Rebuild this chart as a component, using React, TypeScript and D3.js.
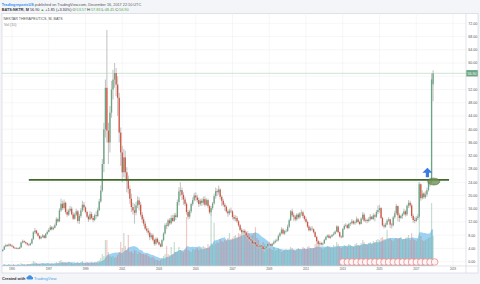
import React from "react";
import * as d3 from "d3";

// ---- DATA (monthly, Jul 1994 .. Dec 2017) ----
const FIRST_MONTH = { year: 1994, month: 6 }; // July 1994
const FIRST_OPEN = 3.2;
const LAST_OPEN = 53.57; // Dec 2017 open (header O:53.57)

const closes = [
  3.6, 4.6, 5.0, 4.8, 5.2, 4.9,
  4.6, 4.2, 4.0, 4.1, 3.9, 4.3, 5.8, 6.2, 5.9, 5.6, 5.2, 5.0,
  5.5, 6.8, 8.9, 9.4, 8.6, 7.8, 7.0, 7.5, 7.9, 7.2, 8.4, 9.0,
  9.6, 10.4, 9.8, 10.2, 11.0, 12.8, 12.2, 15.5, 17.5, 16.2, 17.8, 15.0,
  14.2, 15.4, 16.0, 14.3, 13.0, 14.2, 15.2, 12.3, 13.8, 15.5, 17.2, 16.4,
  15.0, 13.6, 12.8, 14.4, 13.2, 12.6, 14.0, 13.8, 15.6, 18.2, 21.5, 29.5,
  40.0, 52.5, 39.6, 36.0, 45.0, 52.0, 55.0, 57.0, 53.5, 49.5, 39.0, 33.0,
  27.0, 31.5, 27.0, 24.5, 22.0, 19.0, 16.5, 15.5, 14.8, 17.0, 18.5, 17.2,
  14.2, 12.8, 11.5, 10.0, 9.4, 8.8, 7.4, 8.0, 6.6, 5.4, 6.9, 5.9,
  5.2, 4.6, 6.5, 8.5, 11.0, 10.8, 12.5, 11.6, 13.2, 12.3, 14.0, 13.5,
  18.0, 21.2, 21.6, 20.2, 18.8, 17.5, 15.0, 13.6, 15.2, 17.4, 18.6, 20.0,
  19.4, 18.6, 17.4, 18.4, 17.8, 18.9, 17.2, 18.6, 16.8, 14.9, 16.2, 17.6,
  19.8, 21.3, 21.0, 21.8, 19.6, 18.4, 17.2, 16.6, 15.2, 14.6, 15.4, 15.2,
  13.5, 13.0, 13.2, 12.2, 11.0, 9.6, 8.9, 9.3, 8.8, 7.9, 7.4, 6.8,
  6.4, 5.5, 5.9, 5.2, 4.6, 4.4, 4.9, 4.6, 3.8, 4.1, 4.6, 5.4,
  5.3, 4.8, 5.4, 5.9, 6.3, 6.5, 7.8, 8.6, 9.7, 8.5, 9.2, 9.3,
  10.6, 12.5, 15.2, 14.0, 13.6, 12.8, 14.2, 13.4, 14.6, 14.9, 13.8, 12.9,
  12.0, 10.6, 9.5, 10.0, 9.8, 8.9, 7.5, 6.2, 5.3, 5.6, 5.2, 5.5,
  6.6, 7.5, 7.9, 7.2, 7.6, 8.1, 8.4, 9.1, 10.6, 8.9, 7.6, 7.4,
  9.9, 10.8, 11.0, 10.2, 11.4, 11.6, 12.2, 11.6, 11.9, 12.8, 12.0, 11.4,
  13.0, 14.2, 12.4, 12.6, 12.3, 12.8, 13.6, 12.9, 14.0, 13.6, 15.0, 15.6,
  16.2, 13.2, 11.0, 10.6, 11.2, 12.4, 12.8, 11.2, 11.0, 13.4, 14.6, 16.8,
  14.0, 13.2, 13.8, 14.3, 15.2, 14.3, 16.9, 17.8, 17.0, 13.8, 12.6, 12.3,
  13.2, 13.6, 23.4, 19.2, 20.6, 19.5, 20.3, 21.6, 23.9, 24.1, 55.05, 56.9,
];

const highs = [
  3.9, 4.9, 5.4, 5.3, 5.6, 5.4,
  5.2, 4.8, 4.4, 4.4, 4.3, 4.6, 6.1, 6.7, 6.5, 6.1, 5.8, 5.5,
  5.8, 7.1, 9.3, 10.2, 9.6, 8.9, 8.0, 7.8, 8.4, 8.1, 8.7, 9.5,
  10.2, 11.0, 10.8, 10.7, 11.5, 13.4, 13.3, 16.2, 19.0, 18.4, 18.8, 18.2,
  15.8, 16.0, 16.9, 16.6, 14.9, 14.8, 16.0, 15.6, 14.4, 16.2, 18.4, 18.0,
  16.8, 15.4, 14.0, 15.2, 15.0, 13.8, 14.5, 15.2, 16.4, 19.0, 23.0, 31.0,
  42.0, 55.0, 70.0, 42.0, 47.0, 54.6, 58.0, 60.0, 58.5, 56.0, 51.0, 40.5,
  35.0, 34.0, 33.5, 28.5, 26.0, 23.0, 20.5, 17.8, 17.5, 18.0, 19.8, 19.5,
  18.0, 15.0, 13.6, 12.2, 10.8, 10.2, 9.4, 8.6, 8.5, 7.0, 7.4, 7.3,
  6.4, 5.6, 6.8, 8.9, 11.6, 11.8, 13.0, 13.2, 14.0, 14.2, 14.6, 14.8,
  18.8, 22.5, 24.0, 22.4, 21.0, 19.6, 18.0, 15.6, 15.8, 17.9, 19.5, 20.8,
  21.0, 20.2, 19.4, 19.0, 19.1, 19.6, 19.8, 19.2, 19.0, 17.2, 16.8, 18.0,
  20.5, 22.4, 22.0, 23.0, 22.2, 20.1, 19.0, 17.8, 17.0, 15.8, 16.0, 16.4,
  15.6, 14.2, 14.0, 13.8, 12.6, 11.4, 10.2, 9.8, 9.8, 9.2, 8.2, 7.8,
  7.4, 6.8, 6.4, 6.2, 5.5, 5.0, 5.4, 5.3, 5.0, 4.4, 4.9, 5.8,
  6.0, 5.6, 5.7, 6.4, 6.8, 7.0, 8.2, 9.0, 10.4, 10.2, 9.6, 9.9,
  11.2, 13.0, 15.6, 16.0, 14.8, 14.2, 14.6, 14.8, 15.0, 15.8, 15.4, 14.2,
  13.6, 12.4, 11.0, 10.6, 10.8, 10.1, 9.2, 7.8, 6.6, 6.2, 6.0, 5.9,
  6.9, 7.7, 8.2, 8.4, 7.9, 8.4, 8.9, 9.4, 11.0, 10.9, 9.1, 8.0,
  10.2, 11.3, 11.6, 11.4, 11.8, 12.0, 12.9, 12.6, 12.4, 13.6, 13.2, 12.4,
  13.4, 15.0, 14.8, 13.2, 13.0, 13.4, 14.4, 13.9, 14.6, 14.5, 15.6, 17.0,
  17.2, 16.5, 13.6, 11.6, 11.8, 12.9, 13.4, 13.0, 11.8, 13.9, 15.4, 17.4,
  17.0, 14.6, 14.2, 14.8, 16.0, 15.6, 17.3, 18.6, 18.4, 17.6, 14.4, 13.4,
  13.8, 14.4, 24.1, 23.6, 21.6, 21.0, 21.3, 22.4, 24.4, 25.2, 56.9, 57.83,
];

const lows = [
  3.0, 3.5, 4.4, 4.5, 4.5, 4.6,
  4.4, 4.0, 3.8, 3.8, 3.7, 3.8, 4.2, 5.5, 5.6, 5.3, 4.9, 4.7,
  4.8, 5.3, 6.6, 8.4, 8.2, 7.5, 6.7, 6.8, 7.2, 7.0, 7.0, 8.1,
  8.8, 9.4, 9.4, 9.5, 10.0, 10.8, 11.8, 12.0, 15.0, 15.6, 15.8, 14.5,
  13.6, 13.8, 14.9, 14.0, 12.6, 12.7, 13.8, 11.6, 11.4, 13.2, 15.0, 15.5,
  14.6, 13.2, 12.0, 12.5, 12.8, 11.9, 12.2, 13.0, 13.5, 15.2, 17.8, 21.0,
  27.0, 37.5, 36.0, 29.5, 33.0, 43.5, 49.0, 52.5, 50.0, 44.0, 36.0, 29.0,
  24.0, 25.5, 24.5, 21.0, 20.5, 17.5, 15.0, 14.2, 11.5, 14.0, 16.2, 15.5,
  13.6, 11.8, 10.8, 9.5, 8.8, 8.0, 6.5, 6.8, 6.2, 4.8, 5.0, 5.6,
  4.9, 4.4, 4.4, 6.2, 8.2, 9.8, 10.4, 11.0, 11.2, 11.9, 12.0, 12.6,
  13.2, 17.0, 19.8, 18.6, 17.2, 16.8, 14.2, 12.8, 13.0, 14.6, 16.8, 18.2,
  18.4, 17.8, 16.5, 16.9, 16.8, 17.2, 16.6, 16.9, 16.2, 14.4, 13.8, 15.6,
  17.2, 19.0, 19.8, 20.2, 18.8, 16.8, 16.6, 15.4, 14.8, 13.6, 14.0, 14.6,
  12.8, 12.4, 12.2, 11.8, 10.5, 9.2, 8.4, 8.2, 8.4, 7.6, 6.9, 6.2,
  5.8, 5.2, 5.2, 5.0, 4.4, 4.0, 4.2, 4.3, 3.4, 3.0, 3.8, 4.3,
  4.9, 4.5, 4.4, 5.1, 5.6, 5.9, 6.2, 7.4, 8.2, 8.2, 8.1, 8.8,
  9.0, 10.2, 12.2, 13.4, 12.4, 12.2, 12.4, 12.8, 13.0, 13.9, 13.2, 12.4,
  11.6, 10.2, 9.1, 9.2, 9.3, 8.5, 7.2, 5.8, 4.8, 4.7, 5.0, 4.8,
  5.4, 6.4, 7.2, 7.0, 6.9, 7.4, 7.8, 8.2, 8.9, 8.6, 7.3, 7.0,
  7.2, 9.6, 10.4, 9.8, 9.9, 10.8, 11.2, 11.2, 11.1, 11.6, 11.6, 11.0,
  11.2, 12.6, 12.0, 11.8, 11.6, 11.9, 12.4, 12.6, 12.6, 12.2, 13.2, 14.4,
  14.8, 12.8, 10.6, 10.0, 10.2, 11.0, 12.0, 10.2, 10.0, 10.6, 13.0, 14.2,
  12.2, 12.0, 12.8, 13.0, 14.0, 13.6, 13.8, 16.2, 16.4, 13.2, 11.8, 11.6,
  12.0, 12.6, 13.2, 18.4, 18.8, 18.9, 19.0, 19.6, 21.2, 22.6, 23.5, 48.45,
];

// volume, millions of shares
const volumes = [
  1, 2, 1, 1, 2, 1,
  1, 2, 1, 1, 2, 1, 3, 2, 2, 1, 2, 2,
  2, 3, 5, 4, 3, 2, 2, 2, 3, 2, 2, 3,
  3, 2, 3, 2, 3, 4, 3, 5, 6, 4, 4, 3,
  3, 4, 3, 3, 2, 3, 3, 4, 3, 4, 5, 3,
  3, 4, 3, 3, 4, 3, 4, 4, 5, 6, 8, 12,
  10, 26, 26, 14, 10, 9, 10, 8, 9, 11, 14, 24,
  18, 33, 20, 16, 31, 14, 15, 13, 16, 15, 12, 14,
  13, 12, 12, 11, 12, 10, 9, 8, 9, 7, 6, 6,
  5, 6, 8, 10, 12, 20, 12, 11, 19, 12, 24, 14,
  14, 19, 16, 15, 14, 17, 49, 16, 15, 14, 17, 16,
  17, 18, 16, 17, 19, 20, 19, 18, 22, 20, 53, 21,
  43, 22, 24, 23, 27, 25, 24, 26, 25, 28, 33, 27,
  28, 30, 31, 29, 33, 32, 34, 33, 36, 34, 35, 32,
  30, 31, 33, 39, 28, 26, 22, 20, 24, 22, 18, 17,
  18, 17, 16, 19, 15, 16, 18, 17, 14, 15, 16, 17,
  16, 17, 19, 18, 16, 15, 17, 18, 17, 16, 19, 18,
  17, 19, 20, 18, 17, 18, 22, 24, 21, 19, 18, 17,
  18, 19, 20, 19, 18, 19, 21, 20, 24, 22, 19, 18,
  19, 21, 20, 19, 22, 21, 20, 19, 22, 23, 21, 20,
  23, 26, 24, 22, 21, 23, 24, 22, 25, 24, 26, 27,
  26, 28, 29, 27, 27, 36, 27, 28, 26, 25, 27, 28,
  27, 28, 29, 26, 27, 28, 29, 31, 26, 33, 27, 26,
  25, 27, 84, 30, 26, 25, 26, 27, 28, 29, 63, 30,
];

const priceTicks = [0, 4, 8, 12, 16, 20, 24, 28, 32, 36, 40, 44, 48, 52, 60, 64, 68, 72];
const gridTicks = [0, 4, 8, 12, 16, 20, 24, 28, 32, 36, 40, 44, 48, 52, 56, 60, 64, 68, 72];
const yearTicks = [1995, 1997, 1999, 2001, 2003, 2005, 2007, 2009, 2011, 2013, 2015, 2017, 2019];
const markerDates = [
  "2013-01", "2013-04", "2013-07", "2013-10", "2014-01", "2014-04", "2014-07", "2014-10",
  "2015-01", "2015-04", "2015-07", "2015-10", "2016-01", "2016-04", "2016-07", "2016-10",
  "2017-01", "2017-04", "2017-07", "2017-10", "2018-01",
];
const LAST_PRICE = 56.9;
const LEVEL_PRICE = 24.7;
const LEVEL_FROM = new Date(1995, 11, 1);
const LEVEL_TO = new Date(2018, 9, 15);
const ARROW_AT = { date: new Date(2017, 7, 10), price: 26.9 };
const ELLIPSE_AT = { date: new Date(2017, 11, 15), price: 24.2 };
const MA_LEN = 10;

// ---- LAYOUT ----
const W = 480, H = 284;
const PANE = { x0: 2, x1: 478, y0: 13.5, y1: 273 };
const AXIS_X = 466;
const AXIS_Y = 266;
const FONT = "'Liberation Sans', Arial, sans-serif";
const UP = "#6ba583", DOWN = "#d75442";

export default function App() {
  const x = d3.scaleTime().domain([new Date(1995, 0, 1), new Date(2019, 0, 1)]).range([12, 453]);
  const y = d3.scaleLinear().domain([0, 72]).range([261.7, 23.3]);
  const vy = d3.scaleLinear().domain([0, 100]).range([AXIS_Y, AXIS_Y - 100]);

  const bars = closes.map((c, i) => {
    const date = new Date(FIRST_MONTH.year, FIRST_MONTH.month + i, 1);
    const open = i === 0 ? FIRST_OPEN : i === closes.length - 1 ? LAST_OPEN : closes[i - 1];
    const from = Math.max(0, i - MA_LEN + 1);
    const ma = d3.mean(volumes.slice(from, i + 1)) as number;
    return { date, open, close: c, high: highs[i], low: lows[i], vol: volumes[i], ma };
  });

  const area = d3
    .area<any>()
    .x((d) => x(d.date))
    .y0(AXIS_Y)
    .y1((d) => vy(d.ma));

  const ax = x(ARROW_AT.date), ay = y(ARROW_AT.price);
  const arrowPath = `M${ax},${ay - 5} L${ax + 5},${ay} L${ax + 1.6},${ay} L${ax + 1.6},${ay + 4.5} L${ax - 1.6},${ay + 4.5} L${ax - 1.6},${ay} L${ax - 5},${ay} Z`;

  return (
    <svg width={W} height={H} style={{ position: "fixed", left: 0, top: 0, display: "block" }} fontFamily={FONT}>
      <rect x={0} y={0} width={W} height={H} fill="#f3f5f8" />
      <rect x={PANE.x0} y={PANE.y0} width={PANE.x1 - PANE.x0} height={PANE.y1 - PANE.y0} fill="#ffffff" stroke="#d3d8de" strokeWidth={0.7} />

      {/* grid */}
      {gridTicks.map((t) => (
        <line key={"hg" + t} x1={PANE.x0} x2={AXIS_X} y1={y(t)} y2={y(t)} stroke="#eef0f3" strokeWidth={0.6} />
      ))}
      {yearTicks.map((yr) => (
        <line key={"vg" + yr} x1={x(new Date(yr, 0, 1))} x2={x(new Date(yr, 0, 1))} y1={PANE.y0} y2={AXIS_Y} stroke="#eef0f3" strokeWidth={0.6} />
      ))}

      {/* volume MA area + bars */}
      <path d={area(bars) as string} fill="#7cc3ef" opacity={0.75} />
      {bars.map((b, i) => (
        <rect
          key={"v" + i}
          x={x(b.date) - 0.6}
          width={1.2}
          y={vy(b.vol)}
          height={AXIS_Y - vy(b.vol)}
          fill={b.close >= b.open ? "rgba(107,165,131,0.38)" : "rgba(215,84,66,0.32)"}
        />
      ))}

      {/* last price line */}
      <line x1={PANE.x0} x2={AXIS_X} y1={y(LAST_PRICE)} y2={y(LAST_PRICE)} stroke="#a9d3bb" strokeWidth={0.6} />

      {/* candles */}
      {bars.map((b, i) => (
        <line key={"w" + i} x1={x(b.date)} x2={x(b.date)} y1={y(b.high)} y2={y(b.low)} stroke="#c6c6c6" strokeWidth={1.1} />
      ))}
      {bars.map((b, i) => {
        const top = y(Math.max(b.open, b.close));
        const h = Math.max(0.6, Math.abs(y(b.open) - y(b.close)));
        return (
          <rect key={"b" + i} x={x(b.date) - 0.65} width={1.3} y={top} height={h} fill={b.close >= b.open ? UP : DOWN} />
        );
      })}

      {/* annotations */}
      <line x1={x(LEVEL_FROM)} x2={x(LEVEL_TO)} y1={y(LEVEL_PRICE)} y2={y(LEVEL_PRICE)} stroke="#42682a" strokeWidth={1.6} />
      <path d={arrowPath} fill="#3a7be6" />
      <ellipse cx={x(ELLIPSE_AT.date)} cy={y(ELLIPSE_AT.price)} rx={6} ry={3.4} fill="#6f9152" fillOpacity={0.8} stroke="#4f7236" strokeWidth={0.6} />

      {/* event markers */}
      {markerDates.map((m) => {
        const [yy, mm] = m.split("-").map(Number);
        return (
          <circle key={m} cx={x(new Date(yy, mm - 1, 1))} cy={262} r={3.3} fill="#fff5f5" stroke="#ef8a8a" strokeWidth={0.8} />
        );
      })}

      {/* axes separators */}
      <line x1={AXIS_X} x2={AXIS_X} y1={PANE.y0} y2={PANE.y1} stroke="#d3d8de" strokeWidth={0.7} />
      <line x1={PANE.x0} x2={PANE.x1} y1={AXIS_Y} y2={AXIS_Y} stroke="#d3d8de" strokeWidth={0.7} />

      {/* price labels */}
      {priceTicks.map((t) => (
        <text key={"pl" + t} x={468.3} y={y(t) + 1.3} fontSize={3.6} fill="#555">
          {t.toFixed(2)}
        </text>
      ))}
      <rect x={466.3} y={y(LAST_PRICE) - 3.2} width={11.5} height={6.4} fill={UP} />
      <text x={472} y={y(LAST_PRICE) + 1.3} fontSize={3.6} fill="#fff" textAnchor="middle">
        {LAST_PRICE.toFixed(2)}
      </text>

      {/* time labels */}
      {yearTicks.map((yr) => (
        <text key={"tl" + yr} x={x(new Date(yr, 0, 1))} y={270.4} fontSize={2.8} fill="#555" textAnchor="middle">
          {yr}
        </text>
      ))}

      {/* header */}
      <text x={1.7} y={5.8} fontSize={3.8}>
        <tspan fill="#2d8ff0" fontWeight="bold">TradingreportsUS</tspan>
        <tspan fill="#555"> published on TradingView.com, December 16, 2017 22:10 UTC</tspan>
      </text>
      <text x={1.7} y={11} fontSize={3.8}>
        <tspan fill="#333" fontWeight="bold">BATS:NKTR, M </tspan>
        <tspan fill="#333">56.90 </tspan>
        <tspan fill="#4caf50">▲</tspan>
        <tspan fill="#333"> +1.85 (+3.30%) O:</tspan>
        <tspan fill="#4caf50">53.57</tspan>
        <tspan fill="#333"> H:</tspan>
        <tspan fill="#4caf50">57.83</tspan>
        <tspan fill="#333"> L:</tspan>
        <tspan fill="#4caf50">48.45</tspan>
        <tspan fill="#333"> C:</tspan>
        <tspan fill="#4caf50">56.90</tspan>
      </text>
      <text x={3.5} y={19.8} fontSize={3.6} fill="#555">
        NEKTAR THERAPEUTICS, M, BATS
      </text>
      <text x={4} y={25.8} fontSize={3.6} fill="#888">
        Vol (10)
      </text>

      {/* footer */}
      <text x={2} y={279.6} fontSize={3.9} fill="#333" fontWeight="bold">
        Created with
      </text>
      <path d="M27.5,279.5 a1.6,1.6 0 0 1 0.4,-3.1 a2.2,2.2 0 0 1 4.1,0.4 a1.4,1.4 0 0 1 0.2,2.7 Z" fill="#3d8fe0" />
      <text x={34} y={279.6} fontSize={4.1} fill="#4a9be8">
        TradingView
      </text>
    </svg>
  );
}
